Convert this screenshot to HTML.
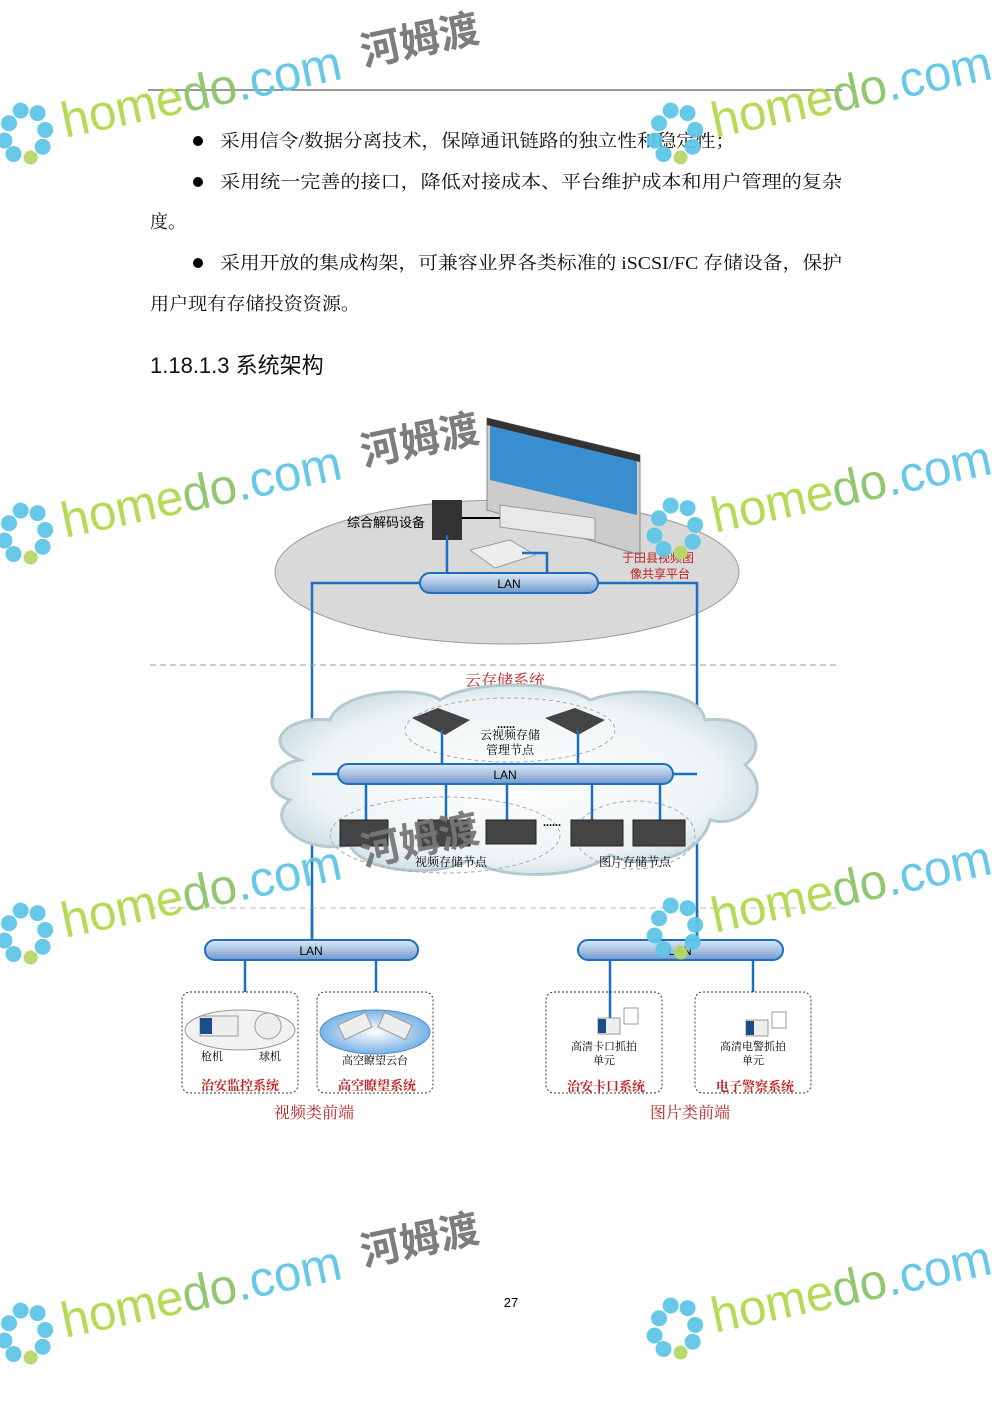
<!DOCTYPE html>
<html><head><meta charset="utf-8"><style>
html,body{margin:0;padding:0;background:#fff}
svg{display:block}
text{font-family:"Liberation Serif","Noto Serif CJK SC",serif}
.s{font-family:"Liberation Sans","Noto Sans CJK SC",sans-serif}
</style></head><body>
<svg width="992" height="1403" viewBox="0 0 992 1403" xmlns="http://www.w3.org/2000/svg">
<defs>
<linearGradient id="pipe" x1="0" y1="0" x2="0" y2="1">
<stop offset="0" stop-color="#dfeaf6"/><stop offset="0.5" stop-color="#a9c3e3"/><stop offset="1" stop-color="#6f97c8"/></linearGradient>
<radialGradient id="cl" cx="0.5" cy="0.5" r="0.6"><stop offset="0" stop-color="#ffffff"/><stop offset="0.7" stop-color="#eef4f6"/><stop offset="1" stop-color="#bcd3da"/></radialGradient>
<radialGradient id="bc" cx="0.5" cy="0.5" r="0.6"><stop offset="0" stop-color="#ffffff"/><stop offset="1" stop-color="#5fa3e0"/></radialGradient>
<g id="wm">
<g fill="#5fc6e6"><circle cx="-24" cy="-12" r="8"/><circle cx="-10" cy="-22" r="8"/><circle cx="6" cy="-16" r="8"/><circle cx="-32" cy="4" r="8"/><circle cx="10" cy="2" r="8"/><circle cx="-26" cy="19" r="8"/><circle cx="4" cy="18" r="8"/></g>
<circle cx="-10" cy="26" r="7" fill="#b5d96a"/>
<text x="28" y="14" class="s" font-size="50" fill="#b3d84e" textLength="285" lengthAdjust="spacingAndGlyphs">home<tspan fill="#8dc46a">do</tspan><tspan fill="#5fc6e6">.com</tspan></text>
</g>
</defs>

<line x1="148" y1="90" x2="842" y2="90" stroke="#333" stroke-width="1"/>
<g font-size="18" fill="#111">
<circle cx="198" cy="141" r="5" fill="#000"/><text x="220" y="147" textLength="515" lengthAdjust="spacingAndGlyphs">采用信令/数据分离技术，保障通讯链路的独立性和稳定性；</text>
<circle cx="198" cy="182" r="5" fill="#000"/><text x="220" y="188" textLength="622" lengthAdjust="spacingAndGlyphs">采用统一完善的接口，降低对接成本、平台维护成本和用户管理的复杂</text>
<text x="150" y="228">度。</text>
<circle cx="198" cy="263" r="5" fill="#000"/><text x="220" y="269" textLength="622" lengthAdjust="spacingAndGlyphs">采用开放的集成构架，可兼容业界各类标准的 iSCSI/FC 存储设备，保护</text>
<text x="150" y="310" textLength="210" lengthAdjust="spacingAndGlyphs">用户现有存储投资资源。</text>
</g>
<text x="150" y="373" class="s" font-size="22" fill="#111">1.18.1.3 系统架构</text>

<!-- top ellipse -->
<ellipse cx="507" cy="572" rx="232" ry="72" fill="#d9d9d9" stroke="#999"/>
<polygon points="487,418 640,455 640,555 487,510" fill="#ccc" stroke="#888"/>
<polygon points="490,425 637,460 637,515 490,480" fill="#3a8fd0"/>
<polygon points="487,418 640,455 640,462 487,425" fill="#333"/>
<polygon points="500,505 595,518 595,540 500,527" fill="#e8e8e8" stroke="#999"/>
<rect x="432" y="500" width="30" height="40" fill="#333"/>
<line x1="462" y1="518" x2="500" y2="518" stroke="#000" stroke-width="2"/>
<polygon points="470,550 510,540 535,555 495,568" fill="#eee" stroke="#999"/>
<text x="347" y="527" class="s" font-size="13" fill="#000">综合解码设备</text>
<text x="622" y="562" class="s" font-size="12" fill="#b22">于田县视频图</text>
<text x="630" y="578" class="s" font-size="12" fill="#b22">像共享平台</text>
<g fill="none" stroke="#1a6fc0" stroke-width="2.5">
<line x1="447" y1="535" x2="447" y2="573"/>
<polyline points="522,553 547,553 547,573"/>
<polyline points="420,583 312,583 312,940"/>
<polyline points="598,583 697,583 697,940"/>
</g>
<rect x="420" y="573" width="178" height="20" rx="10" fill="url(#pipe)" stroke="#1a6fc0" stroke-width="2"/>
<text x="509" y="588" class="s" font-size="12" text-anchor="middle">LAN</text>

<line x1="150" y1="665" x2="840" y2="665" stroke="#999" stroke-dasharray="6,4"/>
<text x="505" y="686" font-size="16" fill="#b22" text-anchor="middle">云存储系统</text>

<path d="M300,760 C260,745 285,715 330,720 C340,690 420,685 440,700 C470,680 560,680 590,700 C630,685 700,690 705,720 C750,715 770,745 745,765 C775,790 745,830 710,820 C700,860 640,870 610,855 C580,880 500,880 470,860 C430,880 360,870 350,845 C300,855 265,820 290,800 C260,790 270,765 300,760 Z" fill="url(#cl)" stroke="#b5cad0" stroke-width="3"/>
<ellipse cx="510" cy="730" rx="105" ry="32" fill="none" stroke="#aaa" stroke-dasharray="4,3"/>
<ellipse cx="445" cy="835" rx="115" ry="38" fill="none" stroke="#aaa" stroke-dasharray="4,3"/>
<ellipse cx="635" cy="835" rx="60" ry="34" fill="none" stroke="#aaa" stroke-dasharray="4,3"/>
<polygon points="412,718 438,708 470,720 445,735" fill="#444"/>
<polygon points="545,718 575,708 605,720 578,735" fill="#444"/>
<g fill="none" stroke="#1a6fc0" stroke-width="2.5">
<line x1="442" y1="730" x2="442" y2="764"/><line x1="578" y1="730" x2="578" y2="764"/>
<line x1="312" y1="774" x2="338" y2="774"/><line x1="673" y1="774" x2="697" y2="774"/>
<line x1="366" y1="784" x2="366" y2="820"/><line x1="446" y1="784" x2="446" y2="820"/><line x1="507" y1="784" x2="507" y2="820"/><line x1="592" y1="784" x2="592" y2="820"/><line x1="660" y1="784" x2="660" y2="820"/>
</g>
<rect x="338" y="764" width="335" height="20" rx="10" fill="url(#pipe)" stroke="#1a6fc0" stroke-width="2"/>
<text x="505" y="779" class="s" font-size="12" text-anchor="middle">LAN</text>
<text x="497" y="728" font-size="12" font-weight="bold">......</text>
<text x="510" y="739" font-size="12" text-anchor="middle">云视频存储</text>
<text x="510" y="754" font-size="12" text-anchor="middle">管理节点</text>
<g fill="#444" stroke="#222">
<rect x="340" y="820" width="48" height="26"/><rect x="418" y="820" width="52" height="26"/><rect x="486" y="820" width="50" height="24"/><rect x="571" y="820" width="52" height="26"/><rect x="633" y="820" width="52" height="26"/>
</g>
<text x="543" y="826" font-size="12" font-weight="bold">......</text>
<text x="451" y="866" font-size="12" text-anchor="middle">视频存储节点</text>
<text x="635" y="866" font-size="12" text-anchor="middle">图片存储节点</text>

<line x1="150" y1="908" x2="840" y2="908" stroke="#bbb" stroke-dasharray="6,4"/>

<g fill="none" stroke="#1a6fc0" stroke-width="2.5">
<line x1="312" y1="908" x2="312" y2="940"/><line x1="697" y1="908" x2="697" y2="940"/>
<line x1="245" y1="960" x2="245" y2="992"/><line x1="376" y1="960" x2="376" y2="992"/>
<line x1="610" y1="960" x2="610" y2="1020"/><line x1="753" y1="960" x2="753" y2="992"/>
</g>
<rect x="205" y="940" width="213" height="20" rx="10" fill="url(#pipe)" stroke="#1a6fc0" stroke-width="2"/>
<text x="311" y="955" class="s" font-size="12" text-anchor="middle">LAN</text>
<rect x="578" y="940" width="205" height="20" rx="10" fill="url(#pipe)" stroke="#1a6fc0" stroke-width="2"/>
<text x="680" y="955" class="s" font-size="12" text-anchor="middle">LAN</text>
<g fill="none" stroke="#333" stroke-dasharray="2,2">
<rect x="182" y="992" width="116" height="101" rx="8"/><rect x="317" y="992" width="116" height="101" rx="8"/>
<rect x="546" y="992" width="116" height="101" rx="8"/><rect x="695" y="992" width="116" height="101" rx="8"/>
</g>
<ellipse cx="240" cy="1030" rx="55" ry="20" fill="#f2f2f2" stroke="#999"/>
<rect x="200" y="1016" width="38" height="20" fill="#eee" stroke="#999"/><rect x="200" y="1018" width="12" height="16" fill="#1a4e8a"/>
<circle cx="268" cy="1026" r="13" fill="#eee" stroke="#999"/>
<ellipse cx="375" cy="1032" rx="55" ry="22" fill="url(#bc)" stroke="#4a8fd0"/>
<rect x="340" y="1018" width="30" height="16" fill="#eee" stroke="#999" transform="rotate(-25 355 1026)"/>
<rect x="380" y="1018" width="30" height="16" fill="#eee" stroke="#999" transform="rotate(25 395 1026)"/>
<rect x="598" y="1018" width="22" height="16" fill="#eee" stroke="#999"/><rect x="598" y="1019" width="8" height="14" fill="#1a4e8a"/><rect x="624" y="1008" width="14" height="16" fill="#fff" stroke="#999"/>
<rect x="746" y="1020" width="22" height="16" fill="#eee" stroke="#999"/><rect x="746" y="1021" width="8" height="14" fill="#1a4e8a"/><rect x="772" y="1012" width="14" height="16" fill="#fff" stroke="#999"/>
<g class="s" font-size="11" fill="#000" text-anchor="middle">
<text x="212" y="1060">枪机</text><text x="270" y="1060">球机</text><text x="375" y="1064">高空瞭望云台</text>
<text x="604" y="1050">高清卡口抓拍</text><text x="604" y="1064">单元</text>
<text x="753" y="1050">高清电警抓拍</text><text x="753" y="1064">单元</text>
</g>
<g class="s" font-size="13" font-weight="bold" fill="#b22" text-anchor="middle">
<text x="240" y="1090">治安监控系统</text><text x="377" y="1090">高空瞭望系统</text>
<text x="606" y="1091">治安卡口系统</text><text x="755" y="1091">电子警察系统</text>
</g>
<text x="314" y="1118" font-size="16" fill="#b22" text-anchor="middle">视频类前端</text>
<text x="690" y="1118" font-size="16" fill="#b22" text-anchor="middle">图片类前端</text>

<text x="511" y="1307" class="s" font-size="13" text-anchor="middle">27</text>

<g opacity="0.95">
<g transform="translate(35,130) rotate(-12)"><use href="#wm"/><text x="335" y="6" class="s" font-size="40" font-weight="bold" fill="#777">河姆渡</text></g>
<g transform="translate(685,130) rotate(-12)"><use href="#wm"/></g>
<g transform="translate(35,530) rotate(-12)"><use href="#wm"/><text x="335" y="6" class="s" font-size="40" font-weight="bold" fill="#777">河姆渡</text></g>
<g transform="translate(685,525) rotate(-12)"><use href="#wm"/></g>
<g transform="translate(35,930) rotate(-12)"><use href="#wm"/><text x="335" y="6" class="s" font-size="40" font-weight="bold" fill="#777">河姆渡</text></g>
<g transform="translate(685,925) rotate(-12)"><use href="#wm"/></g>
<g transform="translate(35,1330) rotate(-12)"><use href="#wm"/><text x="335" y="6" class="s" font-size="40" font-weight="bold" fill="#777">河姆渡</text></g>
<g transform="translate(685,1325) rotate(-12)"><use href="#wm"/></g>
</g>
</svg>
</body></html>
